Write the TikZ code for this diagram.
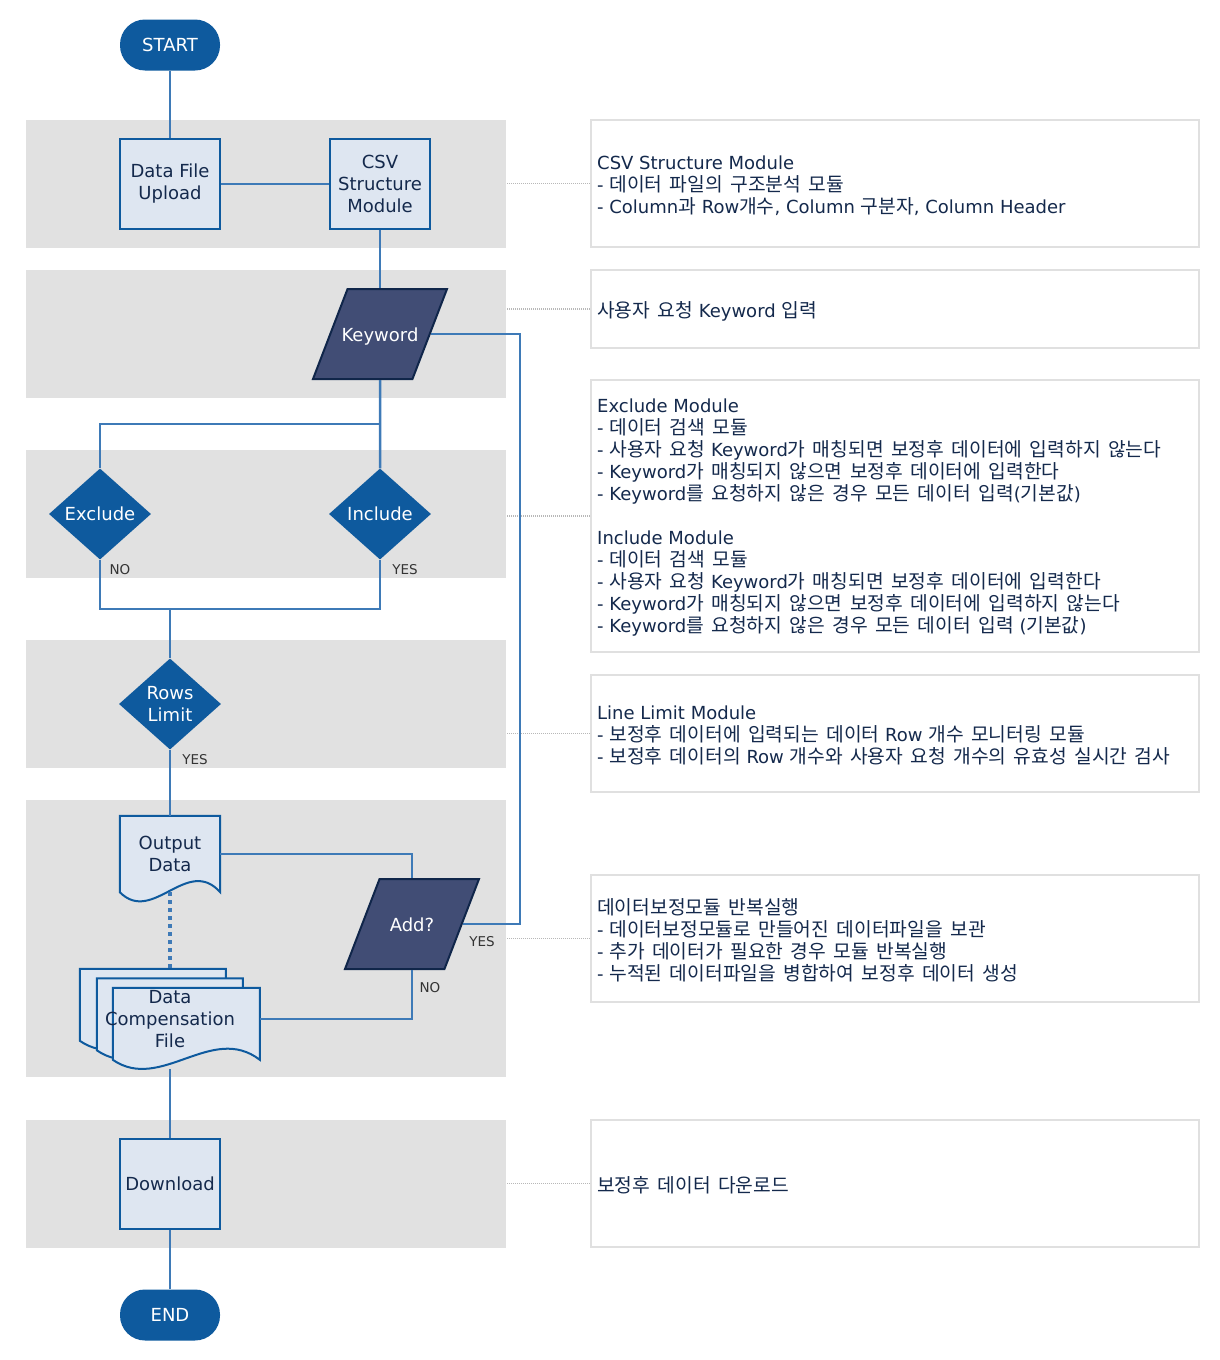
\documentclass[tikz,border=0pt]{standalone}
\usepackage{fontspec}
\setmainfont{DejaVu Sans}
\newfontfamily\krfont[Scale=1.07,WordSpace=1.7]{Noto Sans CJK KR}
\newcommand\kr[1]{{\krfont #1}}
\usetikzlibrary{shapes.geometric,calc}
\definecolor{laneg}{HTML}{E1E1E1}
\definecolor{nblue}{HTML}{0E5A9E}
\definecolor{lfill}{HTML}{DEE6F1}
\definecolor{pfill}{HTML}{414D75}
\definecolor{pborder}{HTML}{10264A}
\definecolor{cline}{HTML}{3E7AB7}
\definecolor{tdark}{HTML}{14294C}
\definecolor{ibord}{HTML}{E0E0E0}
\definecolor{leadc}{HTML}{B8B8B8}
\definecolor{lblc}{HTML}{333333}
\pgfdeclarelayer{bg}
\pgfsetlayers{bg,main}
\begin{document}
\begin{tikzpicture}[x=1pt,y=-1pt,
  every node/.style={font=\fontsize{18}{22}\selectfont},
  lanebox/.style={fill=laneg, draw=none, minimum width=480pt, inner sep=0pt},
  infobox/.style={draw=ibord, line width=2pt, fill=white, minimum width=608pt, inner sep=0pt},
  infotext/.style={anchor=west, align=left, text=tdark, inner sep=0pt, yshift=-2pt},
  terminal/.style={rectangle, rounded corners=25pt, fill=nblue, text=white, minimum width=100pt, minimum height=51pt, inner sep=0pt},
  procbox/.style={rectangle, draw=nblue, line width=2pt, fill=lfill, text=tdark, minimum width=100pt, minimum height=90pt, align=center, inner sep=0pt},
  decision/.style={diamond, fill=nblue, text=white, minimum width=102pt, minimum height=91pt, inner sep=0pt, align=center},
  iobox/.style={trapezium, trapezium left angle=69, trapezium right angle=111, trapezium stretches body=true,
    text height=16pt, text depth=2pt, inner xsep=-6pt, inner ysep=36pt, minimum width=134pt,
    fill=pfill, draw=pborder, line width=2pt, text=white},
  docshape/.style={draw=nblue, line width=2pt, fill=lfill, line join=miter},
  doctext/.style={text=tdark, align=center, inner sep=0pt},
  conn/.style={draw=cline, line width=2.5pt},
  dotconn/.style={draw=cline, line width=4pt, dash pattern=on 4pt off 4pt},
  leader/.style={draw=leadc, line width=1.2pt, dash pattern=on 1pt off 1pt},
  flag/.style={font=\fontsize{13.5}{15}\selectfont, text=lblc, inner sep=0pt}
]
\useasboundingbox (0,0) rectangle (1220,1360);

% lanes
\begin{pgfonlayer}{bg}
\node[lanebox, minimum height=128pt] (lane1) at (266,184) {};
\node[lanebox, minimum height=128pt] (lane2) at (266,334) {};
\node[lanebox, minimum height=128pt] (lane3) at (266,514) {};
\node[lanebox, minimum height=128pt] (lane4) at (266,704) {};
\node[lanebox, minimum height=277pt] (lane5) at (266,938.5) {};
\node[lanebox, minimum height=128pt] (lane6) at (266,1184) {};
\end{pgfonlayer}

% info boxes
\node[infobox, minimum height=127pt] (i1) at (895,183.5) {};
\node[infobox, minimum height=78pt] (i2) at (895,309) {};
\node[infobox, minimum height=272pt] (i3) at (895,516) {};
\node[infobox, minimum height=117pt] (i4) at (895,733.5) {};
\node[infobox, minimum height=127pt] (i5) at (895,938.5) {};
\node[infobox, minimum height=127pt] (i6) at (895,1183.5) {};

\node[infotext] (t1) at ([xshift=7pt]i1.west) {CSV Structure Module\\
- \kr{데이터 파일의 구조분석 모듈}\\
- Column\kr{과} Row\kr{개수}, Column \kr{구분자}, Column Header};
\node[infotext] (t2) at ([xshift=7pt]i2.west) {\kr{사용자 요청} Keyword \kr{입력}};
\node[infotext] (t3) at ([xshift=7pt]i3.west) {Exclude Module\\
- \kr{데이터 검색 모듈}\\
- \kr{사용자 요청} Keyword\kr{가 매칭되면 보정후 데이터에 입력하지 않는다}\\
- Keyword\kr{가 매칭되지 않으면 보정후 데이터에 입력한다}\\
- Keyword\kr{를 요청하지 않은 경우 모든 데이터 입력}(\kr{기본값})\\[22pt]
Include Module\\
- \kr{데이터 검색 모듈}\\
- \kr{사용자 요청} Keyword\kr{가 매칭되면 보정후 데이터에 입력한다}\\
- Keyword\kr{가 매칭되지 않으면 보정후 데이터에 입력하지 않는다}\\
- Keyword\kr{를 요청하지 않은 경우 모든 데이터 입력} (\kr{기본값})};
\node[infotext] (t4) at ([xshift=7pt]i4.west) {Line Limit Module\\
- \kr{보정후 데이터에 입력되는 데이터} Row \kr{개수 모니터링 모듈}\\
- \kr{보정후 데이터의} Row \kr{개수와 사용자 요청 개수의 유효성 실시간 검사}};
\node[infotext] (t5) at ([xshift=7pt]i5.west) {\kr{데이터보정모듈 반복실행}\\
- \kr{데이터보정모듈로 만들어진 데이터파일을 보관}\\
- \kr{추가 데이터가 필요한 경우 모듈 반복실행}\\
- \kr{누적된 데이터파일을 병합하여 보정후 데이터 생성}};
\node[infotext] (t6) at ([xshift=7pt]i6.west) {\kr{보정후 데이터 다운로드}};

% leaders
\draw[leader] (i1.west) -- (i1.west -| lane1.east);
\draw[leader] (i2.west) -- (i2.west -| lane2.east);
\draw[leader] (i3.west) -- (i3.west -| lane3.east);
\draw[leader] (i4.west) -- (i4.west -| lane4.east);
\draw[leader] (i5.west) -- (i5.west -| lane5.east);
\draw[leader] (i6.west) -- (i6.west -| lane6.east);

% flow nodes
\node[terminal] (startn) at (170,45) {START};
\node[procbox] (dfu) at (170,184) {Data File\\Upload};
\node[procbox] (csv) at (380,184) {CSV\\Structure\\Module};
\node[iobox] (kw) at (380,334) {Keyword};
\node[decision] (exc) at (100,514) {Exclude};
\node[decision] (inc) at (380,514) {Include};
\node[decision] (rl) at (170,704) {Rows\\Limit};
\node[doctext, minimum width=100pt, minimum height=76pt] (out) at (170,854) {Output\\Data};
\node[iobox] (add) at (412,924) {Add?};
\node[doctext, minimum width=180pt, minimum height=100pt] (dcf) at (170,1019) {Data\\Compensation\\File};
\node[procbox] (dl) at (170,1184) {Download};
\node[terminal] (endn) at (170,1315) {END};

% document shapes
\begin{pgfonlayer}{bg}
\draw[docshape] (out.north west) -- (out.north east) -- (out.south east)
  .. controls +(-33,-37) and +(33,33) .. (out.south west) -- cycle;
\draw[docshape] (dcf.north west) -- ++(146,0) -- ++(0,72)
  .. controls +(-48,-37) and +(48,33) .. ++(-146,0) -- cycle;
\draw[docshape] ([shift={(17,9.5)}]dcf.north west) -- ++(146,0) -- ++(0,72)
  .. controls +(-48,-37) and +(48,33) .. ++(-146,0) -- cycle;
\draw[docshape] ([shift={(33,19)}]dcf.north west) -- ++(147,0) -- ++(0,72)
  .. controls +(-48,-37) and +(48,33) .. ++(-147,0) -- cycle;
\end{pgfonlayer}

% connectors
\coordinate (sp1) at (380,424);
\coordinate (mg) at (170,609);
\coordinate (c1) at (520,924);
\draw[conn] (startn) -- (dfu);
\draw[conn] (dfu) -- (csv);
\draw[conn] (csv) -- (kw);
\draw[conn] (kw) -- (inc);
\draw[conn] (sp1) -| (exc);
\draw[conn] (exc) |- (mg) -| (inc);
\draw[conn] (mg) -- (rl);
\draw[conn] (rl) -- (out);
\draw[conn] (out.east) -| (add);
\draw[conn] (add) -- (c1) |- (kw);
\draw[conn] (add) |- (dcf.east);
\draw[dotconn] (out.south) -- (dcf.north);
\draw[conn] (dcf.south) -- (dl);
\draw[conn] (dl) -- (endn);

% labels
\node[flag] (l1) at (120,570) {NO};
\node[flag] (l2) at (405,570) {YES};
\node[flag] (l3) at (195,760) {YES};
\node[flag] (l4) at (482,942) {YES};
\node[flag] (l5) at (430,988) {NO};
\end{tikzpicture}
\end{document}
